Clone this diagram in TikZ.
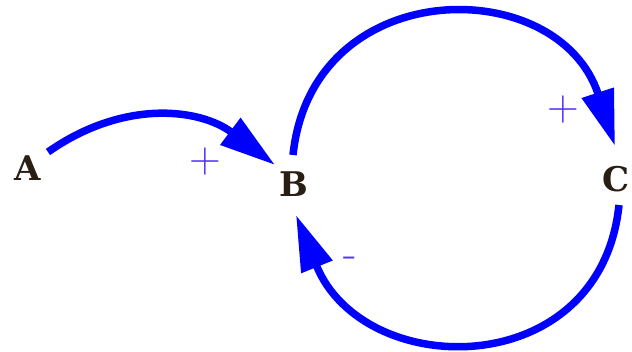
\documentclass[tikz,border=0pt]{standalone}
\usepackage{fontspec}
\newfontfamily\varfont{DejaVu Serif}
\usetikzlibrary{arrows.meta,calc}
\definecolor{linkblue}{RGB}{0,0,255}
\definecolor{signcol}{RGB}{80,50,255}
\definecolor{varcol}{RGB}{40,30,20}
\begin{document}
\begin{tikzpicture}[x=1pt,y=1pt,
  var/.style={inner sep=0pt,text=varcol,font=\varfont\fontsize{34}{34}\selectfont\bfseries},
  link/.style={draw=linkblue,line width=7.5pt,-{Triangle[length=56pt,width=32pt]}},
  sign/.style={inner sep=0pt,text=signcol,font=\fontsize{44}{44}\selectfont}]
\useasboundingbox (0,0) rectangle (632,352);
\node[var] (A) at (28,184) {A};
\node[var] (B) at (294,168) {B};
\node[var] (C) at (616,173) {C};
\draw[link] ($(A)+(20,16)$) to[out=35,in=143,looseness=1.05] ($(B)+(-19,19)$);
\draw[link] ($(B)+(-1,29)$) to[out=84,in=108,looseness=1.45] ($(C)+(-1,33)$);
\draw[link] ($(C)+(3,-26)$) to[out=-96,in=-68,looseness=1.42] ($(B)+(2,-31)$);
\node[sign] (p1) at (205,190) {+};
\node[sign] (p2) at (563,242) {+};
\node[sign] (m1) at (350,90) {-};
\end{tikzpicture}
\end{document}
